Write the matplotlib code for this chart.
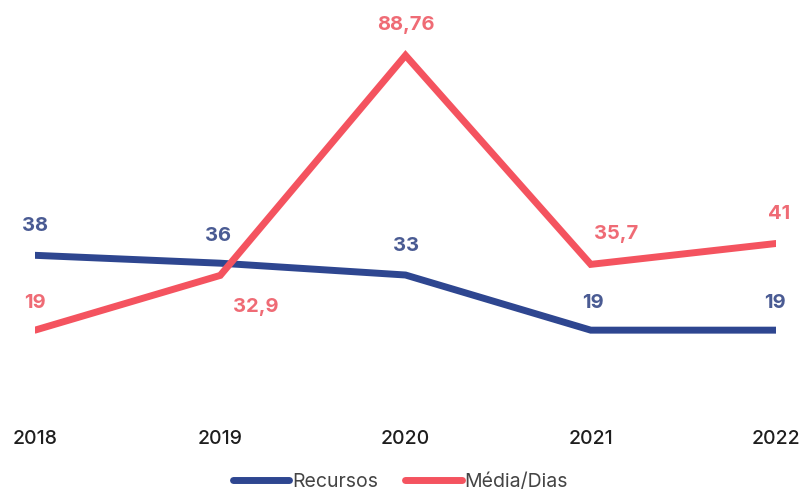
import matplotlib.pyplot as plt

plt.rcParams['font.family'] = ['Inter', 'DejaVu Sans']

years = ['2018', '2019', '2020', '2021', '2022']
recursos = [38, 36, 33, 19, 19]
media_dias = [19, 32.9, 88.76, 35.7, 41]
recursos_lbl = ['38', '36', '33', '19', '19']
media_lbl = ['19', '32,9', '88,76', '35,7', '41']

blue = '#2E4690'
red = '#F4535F'
blue_txt = '#4A5B93'
red_txt = '#EF6B75'

fig = plt.figure(figsize=(8.01, 4.91), dpi=100)
W, H = 801, 491
ax = fig.add_axes([35 / W, (H - 405) / H, (776 - 35) / W, (405 - 30) / H])

x = list(range(len(years)))
ax.plot(x, recursos, color=blue, lw=5, solid_capstyle='round', solid_joinstyle='miter', label='Recursos')
ax.plot(x, media_dias, color=red, lw=5, solid_capstyle='round', solid_joinstyle='miter', label='Média/Dias')

ax.set_xlim(0, 4)
ax.set_ylim(0, 95.2)

# data labels (offsets in pixels)
blue_off = [(0, 29), (-2, 27), (0, 29), (2, 27), (-1, 27)]
red_off = [(0, 27), (35, -32), (0, 30), (25, 30), (3, 29)]
for i, (v, t) in enumerate(zip(recursos, recursos_lbl)):
    ax.annotate(t, (x[i], v), xytext=blue_off[i], textcoords='offset pixels',
                ha='center', va='center', color=blue_txt, fontsize=14.5, fontweight='bold')
for i, (v, t) in enumerate(zip(media_dias, media_lbl)):
    ax.annotate(t, (x[i], v), xytext=red_off[i], textcoords='offset pixels',
                ha='center', va='center', color=red_txt, fontsize=14.5, fontweight='bold')

ax.set_xticks(x)
ax.set_xticklabels(years, fontsize=14, color='#1E1E1E', fontweight='medium')
ax.tick_params(axis='x', length=0, pad=18)
ax.set_yticks([])
for s in ax.spines.values():
    s.set_visible(False)

fig.legend(loc='lower center', bbox_to_anchor=(0.5, -0.035), ncol=2, frameon=False,
           fontsize=14, handlelength=2.9, handletextpad=0.15, columnspacing=1.4,
           labelcolor='#444444')

fig.savefig('out.png', dpi=100)
